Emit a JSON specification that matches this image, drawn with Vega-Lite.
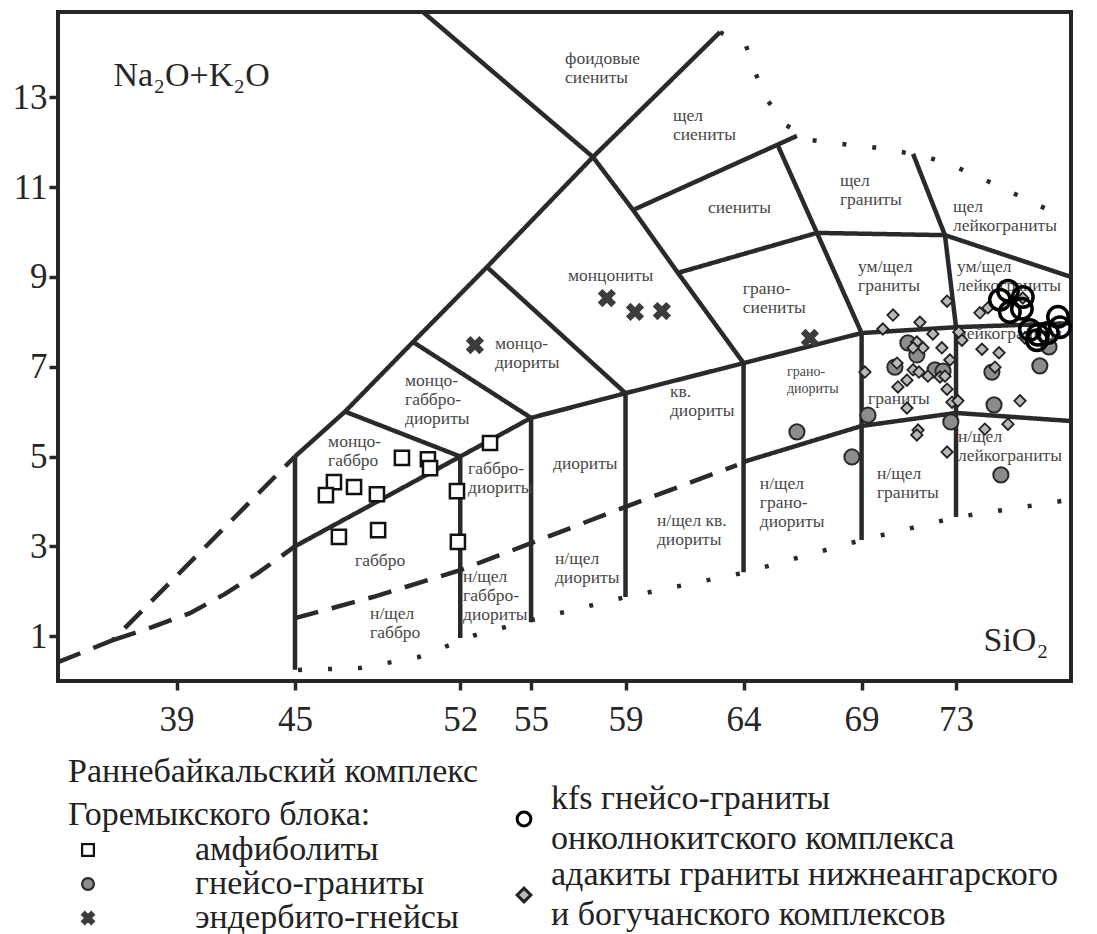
{
  "$schema": "https://vega.github.io/schema/vega-lite/v6.json",
  "width": 1013,
  "height": 669,
  "autosize": {"type": "none"},
  "padding": {"left": 58, "top": 12, "right": 26, "bottom": 253},
  "background": "white",
  "config": {
    "font": "Liberation Serif",
    "view": {"stroke": "#262626", "strokeWidth": 4},
    "style": {"guide-label": {"lineHeight": 40}},
    "axis": {"domain": false, "grid": false, "tickColor": "#262626", "tickWidth": 3.5, "tickSize": 9, "labelFont": "Liberation Serif", "labelFontSize": 35, "labelColor": "#262626", "titleFont": "Liberation Serif", "titleFontSize": 34, "titleFontWeight": "normal", "titleColor": "#262626"},
    "legend": {"padding": 0, "labelFont": "Liberation Serif", "labelFontSize": 34, "labelColor": "#222222", "labelLimit": 1000, "titleFont": "Liberation Serif", "titleFontSize": 34, "titleFontWeight": "normal", "titleColor": "#222222", "titleLimit": 1000, "symbolOpacity": 1}
  },
  "encoding": {
    "x": {"field": "x", "type": "quantitative",
      "scale": {"domain": [33, 45, 77.87], "range": [0, 237, 1013], "nice": false, "zero": false},
      "axis": {"values": [39, 45, 52, 55, 59, 64, 69, 73], "title": "SiO₂", "titleX": 925, "titleY": -41, "titleAlign": "left", "titleBaseline": "middle", "titleAngle": 0, "labelPadding": 12, "labelOverlap": false, "labelFlush": false}},
    "y": {"field": "y", "type": "quantitative",
      "scale": {"domain": [0, 14.9], "nice": false, "zero": false},
      "axis": {"values": [1, 3, 5, 7, 9, 11, 13], "title": "Na₂O+K₂O", "titleX": 55, "titleY": 63, "titleAlign": "left", "titleBaseline": "middle", "titleAngle": 0, "labelPadding": 2, "labelOverlap": false, "labelFlush": false}}
  },
  "layer": [
    {
      "data": {"values": [
        {"seg": "S1", "style": "solid", "o": 1, "x": 45, "y": 5.0},
        {"seg": "S1", "style": "solid", "o": 2, "x": 47.12, "y": 6.0},
        {"seg": "S1", "style": "solid", "o": 3, "x": 50.0, "y": 7.55},
        {"seg": "S1", "style": "solid", "o": 4, "x": 53.13, "y": 9.22},
        {"seg": "S1", "style": "solid", "o": 5, "x": 57.62, "y": 11.67},
        {"seg": "S1", "style": "solid", "o": 6, "x": 63.0, "y": 14.45},
        {"seg": "S2", "style": "solid", "o": 1, "x": 50.42, "y": 14.9},
        {"seg": "S2", "style": "solid", "o": 2, "x": 57.62, "y": 11.67},
        {"seg": "S2", "style": "solid", "o": 3, "x": 59.32, "y": 10.49},
        {"seg": "S2", "style": "solid", "o": 4, "x": 61.22, "y": 9.09},
        {"seg": "S2", "style": "solid", "o": 5, "x": 64.0, "y": 7.08},
        {"seg": "S3", "style": "solid", "o": 1, "x": 59.32, "y": 10.49},
        {"seg": "S3", "style": "solid", "o": 2, "x": 66.26, "y": 12.14},
        {"seg": "S4", "style": "solid", "o": 1, "x": 65.46, "y": 11.92},
        {"seg": "S4", "style": "solid", "o": 2, "x": 67.11, "y": 9.98},
        {"seg": "S4", "style": "solid", "o": 3, "x": 69.0, "y": 7.75},
        {"seg": "S5", "style": "solid", "o": 1, "x": 61.22, "y": 9.09},
        {"seg": "S5", "style": "solid", "o": 2, "x": 67.11, "y": 9.98},
        {"seg": "S5", "style": "solid", "o": 3, "x": 72.53, "y": 9.93},
        {"seg": "S6", "style": "solid", "o": 1, "x": 71.18, "y": 11.74},
        {"seg": "S6", "style": "solid", "o": 2, "x": 72.53, "y": 9.93},
        {"seg": "S6", "style": "solid", "o": 3, "x": 73.0, "y": 7.88},
        {"seg": "S6", "style": "solid", "o": 4, "x": 73.0, "y": 3.65},
        {"seg": "S7", "style": "solid", "o": 1, "x": 72.53, "y": 9.93},
        {"seg": "S7", "style": "solid", "o": 2, "x": 77.87, "y": 9.0},
        {"seg": "S8", "style": "solid", "o": 1, "x": 64.0, "y": 7.08},
        {"seg": "S8", "style": "solid", "o": 2, "x": 69.0, "y": 7.75},
        {"seg": "S8", "style": "solid", "o": 3, "x": 73.0, "y": 7.88},
        {"seg": "S8", "style": "solid", "o": 4, "x": 77.87, "y": 7.97},
        {"seg": "S9", "style": "solid", "o": 1, "x": 64.0, "y": 4.88},
        {"seg": "S9", "style": "solid", "o": 2, "x": 69.0, "y": 5.68},
        {"seg": "S9", "style": "solid", "o": 3, "x": 73.0, "y": 5.97},
        {"seg": "S9", "style": "solid", "o": 4, "x": 77.87, "y": 5.79},
        {"seg": "S10", "style": "solid", "o": 1, "x": 64.0, "y": 7.08},
        {"seg": "S10", "style": "solid", "o": 2, "x": 64.0, "y": 2.42},
        {"seg": "S11", "style": "solid", "o": 1, "x": 69.0, "y": 7.75},
        {"seg": "S11", "style": "solid", "o": 2, "x": 69.0, "y": 3.14},
        {"seg": "S12", "style": "solid", "o": 1, "x": 55.0, "y": 5.86},
        {"seg": "S12", "style": "solid", "o": 2, "x": 55.0, "y": 1.31},
        {"seg": "S13", "style": "solid", "o": 1, "x": 59.0, "y": 6.41},
        {"seg": "S13", "style": "solid", "o": 2, "x": 59.0, "y": 1.87},
        {"seg": "S14", "style": "solid", "o": 1, "x": 52.0, "y": 5.0},
        {"seg": "S14", "style": "solid", "o": 2, "x": 52.0, "y": 0.96},
        {"seg": "S15", "style": "solid", "o": 1, "x": 45.0, "y": 5.0},
        {"seg": "S15", "style": "solid", "o": 2, "x": 45.0, "y": 0.25},
        {"seg": "S16", "style": "solid", "o": 1, "x": 45.0, "y": 3.0},
        {"seg": "S16", "style": "solid", "o": 2, "x": 52.0, "y": 5.0},
        {"seg": "S16", "style": "solid", "o": 3, "x": 55.0, "y": 5.86},
        {"seg": "S16", "style": "solid", "o": 4, "x": 59.0, "y": 6.41},
        {"seg": "S16", "style": "solid", "o": 5, "x": 64.0, "y": 7.08},
        {"seg": "S17", "style": "solid", "o": 1, "x": 47.12, "y": 6.0},
        {"seg": "S17", "style": "solid", "o": 2, "x": 52.0, "y": 5.0},
        {"seg": "S18", "style": "solid", "o": 1, "x": 50.0, "y": 7.55},
        {"seg": "S18", "style": "solid", "o": 2, "x": 55.0, "y": 5.86},
        {"seg": "S19", "style": "solid", "o": 1, "x": 53.13, "y": 9.22},
        {"seg": "S19", "style": "solid", "o": 2, "x": 59.0, "y": 6.41},
        {"seg": "DA", "style": "dashed", "o": 1, "x": 33.0, "y": 0.42},
        {"seg": "DA", "style": "dashed", "o": 2, "x": 35.78, "y": 0.91},
        {"seg": "DA", "style": "dashed", "o": 3, "x": 45.0, "y": 5.0},
        {"seg": "DC", "style": "dashed", "o": 1, "x": 35.78, "y": 0.91},
        {"seg": "DC", "style": "dashed", "o": 2, "x": 37.76, "y": 1.2},
        {"seg": "DC", "style": "dashed", "o": 3, "x": 39.68, "y": 1.51},
        {"seg": "DC", "style": "dashed", "o": 4, "x": 41.46, "y": 1.94},
        {"seg": "DC", "style": "dashed", "o": 5, "x": 43.13, "y": 2.41},
        {"seg": "DC", "style": "dashed", "o": 6, "x": 45.0, "y": 3.0},
        {"seg": "DD", "style": "dashed", "o": 1, "x": 45.0, "y": 1.4},
        {"seg": "DD", "style": "dashed", "o": 2, "x": 48.3, "y": 1.87},
        {"seg": "DD", "style": "dashed", "o": 3, "x": 52.0, "y": 2.47},
        {"seg": "DD", "style": "dashed", "o": 4, "x": 55.0, "y": 3.07},
        {"seg": "DD", "style": "dashed", "o": 5, "x": 59.0, "y": 3.88},
        {"seg": "DD", "style": "dashed", "o": 6, "x": 63.72, "y": 4.81},
        {"seg": "TB", "style": "dotted", "o": 1, "x": 45.13, "y": 0.245},
        {"seg": "TB", "style": "dotted", "o": 2, "x": 47.75, "y": 0.29},
        {"seg": "TB", "style": "dotted", "o": 3, "x": 50.21, "y": 0.53},
        {"seg": "TB", "style": "dotted", "o": 4, "x": 52.62, "y": 1.02},
        {"seg": "TB", "style": "dotted", "o": 5, "x": 55.04, "y": 1.36},
        {"seg": "TB", "style": "dotted", "o": 6, "x": 59.0, "y": 1.87},
        {"seg": "TB", "style": "dotted", "o": 7, "x": 64.0, "y": 2.41},
        {"seg": "TB", "style": "dotted", "o": 8, "x": 69.0, "y": 3.14},
        {"seg": "TB", "style": "dotted", "o": 9, "x": 73.04, "y": 3.65},
        {"seg": "TB", "style": "dotted", "o": 10, "x": 77.49, "y": 4.01},
        {"seg": "TT", "style": "dotted", "o": 1, "x": 63.0, "y": 14.45},
        {"seg": "TT", "style": "dotted", "o": 2, "x": 64.1, "y": 14.16},
        {"seg": "TT", "style": "dotted", "o": 3, "x": 64.5, "y": 13.54},
        {"seg": "TT", "style": "dotted", "o": 4, "x": 65.0, "y": 12.94},
        {"seg": "TT", "style": "dotted", "o": 5, "x": 65.8, "y": 12.38},
        {"seg": "TT", "style": "dotted", "o": 6, "x": 66.85, "y": 12.05},
        {"seg": "TT", "style": "dotted", "o": 7, "x": 68.17, "y": 11.96},
        {"seg": "TT", "style": "dotted", "o": 8, "x": 69.44, "y": 11.89},
        {"seg": "TT", "style": "dotted", "o": 9, "x": 70.71, "y": 11.78},
        {"seg": "TT", "style": "dotted", "o": 10, "x": 71.9, "y": 11.65},
        {"seg": "TT", "style": "dotted", "o": 11, "x": 73.08, "y": 11.43},
        {"seg": "TT", "style": "dotted", "o": 12, "x": 74.31, "y": 11.14},
        {"seg": "TT", "style": "dotted", "o": 13, "x": 75.41, "y": 10.87},
        {"seg": "TT", "style": "dotted", "o": 14, "x": 76.64, "y": 10.56},
        {"seg": "TT", "style": "dotted", "o": 15, "x": 77.74, "y": 10.29}
      ]},
      "mark": {"type": "line", "color": "#2a2a2a", "strokeWidth": 4.5, "strokeCap": "butt"},
      "encoding": {
        "detail": {"field": "seg", "type": "nominal"},
        "order": {"field": "o", "type": "quantitative"},
        "strokeDash": {"field": "style", "type": "nominal", "scale": {"domain": ["solid", "dashed", "dotted"], "range": [[1, 0], [24, 14], [4, 26]]}, "legend": null}
      }
    },
    {
      "data": {"values": [
        {"t": "фоидовые|сиениты", "x": 56.44, "y": 14.05},
        {"t": "щел|сиениты", "x": 61.01, "y": 12.78},
        {"t": "сиениты", "x": 62.49, "y": 10.73},
        {"t": "щел|граниты", "x": 68.08, "y": 11.34},
        {"t": "щел|лейкограниты", "x": 72.87, "y": 10.76},
        {"t": "ум/щел|граниты", "x": 68.85, "y": 9.42},
        {"t": "ум/щел|лейкограниты", "x": 73.04, "y": 9.42},
        {"t": "грано-|сиениты", "x": 63.97, "y": 8.93},
        {"t": "монцониты", "x": 56.56, "y": 9.22},
        {"t": "монцо-|диориты", "x": 53.47, "y": 7.71},
        {"t": "монцо-|габбро-|диориты", "x": 49.66, "y": 6.88},
        {"t": "монцо-|габбро", "x": 46.4, "y": 5.52},
        {"t": "габбро-|диориты", "x": 52.33, "y": 4.92},
        {"t": "габбро", "x": 47.54, "y": 2.87},
        {"t": "н/щел|габбро", "x": 48.18, "y": 1.69},
        {"t": "н/щел|габбро-|диориты", "x": 52.12, "y": 2.52},
        {"t": "диориты", "x": 55.93, "y": 5.03},
        {"t": "н/щел|диориты", "x": 56.01, "y": 2.92},
        {"t": "кв.|диориты", "x": 60.88, "y": 6.64},
        {"t": "н/щел кв.|диориты", "x": 60.33, "y": 3.76},
        {"t": "граниты", "x": 69.27, "y": 6.48},
        {"t": "н/щел|грано-|диориты", "x": 64.69, "y": 4.59},
        {"t": "н/щел|граниты", "x": 69.65, "y": 4.81},
        {"t": "н/щел|лейкограниты", "x": 73.08, "y": 5.63},
        {"t": "лейкограниты", "x": 73.08, "y": 7.93}
      ]},
      "mark": {"type": "text", "align": "left", "baseline": "top", "lineBreak": "|", "lineHeight": 19, "font": "Liberation Serif", "fontSize": 17.5, "color": "#474747"},
      "encoding": {"text": {"field": "t", "type": "nominal"}}
    },
    {
      "data": {"values": [
        {"t": "грано-|диориты", "x": 65.84, "y": 7.04}
      ]},
      "mark": {"type": "text", "align": "left", "baseline": "top", "lineBreak": "|", "lineHeight": 17, "font": "Liberation Serif", "fontSize": 14, "color": "#474747"},
      "encoding": {"text": {"field": "t", "type": "nominal"}}
    },
    {
      "data": {"values": [
        {"g": "амфиболиты", "x": 49.53, "y": 4.97},
        {"g": "амфиболиты", "x": 50.63, "y": 4.94},
        {"g": "амфиболиты", "x": 50.72, "y": 4.74},
        {"g": "амфиболиты", "x": 46.65, "y": 4.43},
        {"g": "амфиболиты", "x": 46.31, "y": 4.14},
        {"g": "амфиболиты", "x": 47.5, "y": 4.32},
        {"g": "амфиболиты", "x": 48.47, "y": 4.16},
        {"g": "амфиболиты", "x": 46.86, "y": 3.21},
        {"g": "амфиболиты", "x": 48.52, "y": 3.36},
        {"g": "амфиболиты", "x": 51.86, "y": 4.23},
        {"g": "амфиболиты", "x": 51.9, "y": 3.1},
        {"g": "амфиболиты", "x": 53.26, "y": 5.3},
        {"g": "гнейсо-граниты", "x": 66.26, "y": 5.55},
        {"g": "гнейсо-граниты", "x": 68.59, "y": 4.99},
        {"g": "гнейсо-граниты", "x": 69.27, "y": 5.92},
        {"g": "гнейсо-граниты", "x": 70.41, "y": 6.99},
        {"g": "гнейсо-граниты", "x": 70.96, "y": 7.53},
        {"g": "гнейсо-граниты", "x": 71.34, "y": 7.26},
        {"g": "гнейсо-граниты", "x": 72.11, "y": 6.93},
        {"g": "гнейсо-граниты", "x": 72.45, "y": 6.9},
        {"g": "гнейсо-граниты", "x": 72.78, "y": 5.77},
        {"g": "гнейсо-граниты", "x": 74.52, "y": 6.88},
        {"g": "гнейсо-граниты", "x": 74.61, "y": 6.15},
        {"g": "гнейсо-граниты", "x": 74.9, "y": 4.59},
        {"g": "гнейсо-граниты", "x": 76.55, "y": 7.02},
        {"g": "гнейсо-граниты", "x": 76.94, "y": 7.44},
        {"g": "эндербито-гнейсы", "x": 58.21, "y": 8.53},
        {"g": "эндербито-гнейсы", "x": 59.4, "y": 8.22},
        {"g": "эндербито-гнейсы", "x": 60.54, "y": 8.24},
        {"g": "эндербито-гнейсы", "x": 66.81, "y": 7.64},
        {"g": "эндербито-гнейсы", "x": 52.62, "y": 7.48}
      ]},
      "mark": {"type": "point", "filled": true, "opacity": 1},
      "encoding": {
        "shape": {"field": "g", "type": "nominal",
          "scale": {"domain": ["амфиболиты", "гнейсо-граниты", "эндербито-гнейсы"], "range": ["square", "circle", "M-1,-0.55L-0.55,-1L0,-0.45L0.55,-1L1,-0.55L0.45,0L1,0.55L0.55,1L0,0.45L-0.55,1L-1,0.55L-0.45,0Z"]},
          "legend": {"title": ["Раннебайкальский комплекс", "Горемыкского блока:"], "orient": "none", "legendX": 10, "legendY": 743, "titleLineHeight": 43, "titlePadding": 1, "titleAnchor": "start", "symbolOffset": 3, "labelOffset": 90, "rowPadding": -2, "symbolSize": 140, "symbolStrokeWidth": 2.2}},
        "fill": {"field": "g", "type": "nominal", "scale": {"domain": ["амфиболиты", "гнейсо-граниты", "эндербито-гнейсы"], "range": ["#ffffff", "#8c8c8c", "#3c3c3c"]}},
        "stroke": {"field": "g", "type": "nominal", "scale": {"domain": ["амфиболиты", "гнейсо-граниты", "эндербито-гнейсы"], "range": ["#111111", "#2a2a2a", "#3c3c3c"]}},
        "size": {"field": "g", "type": "ordinal", "scale": {"range": [200, 260, 200]}, "legend": null},
        "strokeWidth": {"field": "g", "type": "ordinal", "scale": {"range": [2.5, 1.5, 0.5]}, "legend": null}
      }
    },
    {
      "data": {"values": [
        {"g": "адакиты граниты нижнеангарского|и богучанского комплексов", "x": 72.62, "y": 8.46},
        {"g": "адакиты граниты нижнеангарского|и богучанского комплексов", "x": 70.33, "y": 8.15},
        {"g": "адакиты граниты нижнеангарского|и богучанского комплексов", "x": 71.47, "y": 7.99},
        {"g": "адакиты граниты нижнеангарского|и богучанского комплексов", "x": 69.9, "y": 7.84},
        {"g": "адакиты граниты нижнеангарского|и богучанского комплексов", "x": 72.02, "y": 7.73},
        {"g": "адакиты граниты нижнеангарского|и богучанского комплексов", "x": 73.12, "y": 7.77},
        {"g": "адакиты граниты нижнеангарского|и богучанского комплексов", "x": 74.01, "y": 8.2},
        {"g": "адакиты граниты нижнеангарского|и богучанского комплексов", "x": 74.35, "y": 8.31},
        {"g": "адакиты граниты нижнеангарского|и богучанского комплексов", "x": 73.25, "y": 7.59},
        {"g": "адакиты граниты нижнеангарского|и богучанского комплексов", "x": 71.34, "y": 7.55},
        {"g": "адакиты граниты нижнеангарского|и богучанского комплексов", "x": 71.6, "y": 7.42},
        {"g": "адакиты граниты нижнеангарского|и богучанского комплексов", "x": 71.18, "y": 7.42},
        {"g": "адакиты граниты нижнеангарского|и богучанского комплексов", "x": 72.4, "y": 7.42},
        {"g": "адакиты граниты нижнеангарского|и богучанского комплексов", "x": 74.1, "y": 7.39},
        {"g": "адакиты граниты нижнеангарского|и богучанского комплексов", "x": 74.82, "y": 7.31},
        {"g": "адакиты граниты нижнеангарского|и богучанского комплексов", "x": 75.92, "y": 7.64},
        {"g": "адакиты граниты нижнеангарского|и богучанского комплексов", "x": 72.74, "y": 7.15},
        {"g": "адакиты граниты нижнеангарского|и богучанского комплексов", "x": 70.5, "y": 7.08},
        {"g": "адакиты граниты нижнеангарского|и богучанского комплексов", "x": 69.14, "y": 6.88},
        {"g": "адакиты граниты нижнеангарского|и богучанского комплексов", "x": 71.18, "y": 6.93},
        {"g": "адакиты граниты нижнеангарского|и богучанского комплексов", "x": 71.43, "y": 6.88},
        {"g": "адакиты граниты нижнеангарского|и богучанского комплексов", "x": 71.81, "y": 6.79},
        {"g": "адакиты граниты нижнеангарского|и богучанского комплексов", "x": 72.32, "y": 6.77},
        {"g": "адакиты граниты нижнеангарского|и богучанского комплексов", "x": 72.53, "y": 6.79},
        {"g": "адакиты граниты нижнеангарского|и богучанского комплексов", "x": 74.65, "y": 6.99},
        {"g": "адакиты граниты нижнеангарского|и богучанского комплексов", "x": 70.92, "y": 6.7},
        {"g": "адакиты граниты нижнеангарского|и богучанского комплексов", "x": 70.54, "y": 6.55},
        {"g": "адакиты граниты нижнеангарского|и богучанского комплексов", "x": 72.62, "y": 6.5},
        {"g": "адакиты граниты нижнеангарского|и богучанского комплексов", "x": 70.92, "y": 6.08},
        {"g": "адакиты граниты нижнеангарского|и богучанского комплексов", "x": 72.83, "y": 6.21},
        {"g": "адакиты граниты нижнеангарского|и богучанского комплексов", "x": 73.08, "y": 6.24},
        {"g": "адакиты граниты нижнеангарского|и богучанского комплексов", "x": 75.71, "y": 6.24},
        {"g": "адакиты граниты нижнеангарского|и богучанского комплексов", "x": 71.39, "y": 5.59},
        {"g": "адакиты граниты нижнеангарского|и богучанского комплексов", "x": 71.34, "y": 5.48},
        {"g": "адакиты граниты нижнеангарского|и богучанского комплексов", "x": 74.22, "y": 5.61},
        {"g": "адакиты граниты нижнеангарского|и богучанского комплексов", "x": 75.2, "y": 5.72},
        {"g": "адакиты граниты нижнеангарского|и богучанского комплексов", "x": 72.62, "y": 5.1},
        {"g": "адакиты граниты нижнеангарского|и богучанского комплексов", "x": 75.83, "y": 8.53},
        {"g": "kfs гнейсо-граниты|онколнокитского комплекса", "x": 74.86, "y": 8.49},
        {"g": "kfs гнейсо-граниты|онколнокитского комплекса", "x": 75.2, "y": 8.69},
        {"g": "kfs гнейсо-граниты|онколнокитского комплекса", "x": 75.28, "y": 8.22},
        {"g": "kfs гнейсо-граниты|онколнокитского комплекса", "x": 75.79, "y": 8.29},
        {"g": "kfs гнейсо-граниты|онколнокитского комплекса", "x": 75.83, "y": 8.55},
        {"g": "kfs гнейсо-граниты|онколнокитского комплекса", "x": 76.13, "y": 7.82},
        {"g": "kfs гнейсо-граниты|онколнокитского комплекса", "x": 76.47, "y": 7.71},
        {"g": "kfs гнейсо-граниты|онколнокитского комплекса", "x": 76.89, "y": 7.75},
        {"g": "kfs гнейсо-граниты|онколнокитского комплекса", "x": 76.43, "y": 7.59},
        {"g": "kfs гнейсо-граниты|онколнокитского комплекса", "x": 77.32, "y": 8.11},
        {"g": "kfs гнейсо-граниты|онколнокитского комплекса", "x": 77.4, "y": 7.88}
      ]},
      "mark": {"type": "point", "filled": true, "opacity": 1},
      "encoding": {
        "shape": {"field": "g", "type": "nominal",
          "scale": {"domain": ["kfs гнейсо-граниты|онколнокитского комплекса", "адакиты граниты нижнеангарского|и богучанского комплексов"], "range": ["circle", "diamond"]},
          "legend": {"title": null, "orient": "none", "legendX": 449, "legendY": 790, "labelOffset": 10, "labelBaseline": "line-bottom", "rowPadding": 2, "symbolSize": 190, "symbolStrokeWidth": 3, "labelExpr": "split(datum.label, '|')"}},
        "fill": {"field": "g", "type": "nominal", "scale": {"domain": ["kfs гнейсо-граниты|онколнокитского комплекса", "адакиты граниты нижнеангарского|и богучанского комплексов"], "range": ["transparent", "#b8b8b8"]}},
        "stroke": {"field": "g", "type": "nominal", "scale": {"domain": ["kfs гнейсо-граниты|онколнокитского комплекса", "адакиты граниты нижнеангарского|и богучанского комплексов"], "range": ["#000000", "#222222"]}},
        "size": {"field": "g", "type": "ordinal", "scale": {"range": [420, 130]}, "legend": null},
        "strokeWidth": {"field": "g", "type": "ordinal", "scale": {"range": [3.5, 1.8]}, "legend": null}
      }
    }
  ],
  "resolve": {
    "scale": {"shape": "independent", "fill": "independent", "stroke": "independent", "size": "independent", "strokeWidth": "independent", "strokeDash": "independent"},
    "legend": {"shape": "independent", "fill": "independent", "stroke": "independent"}
  }
}
